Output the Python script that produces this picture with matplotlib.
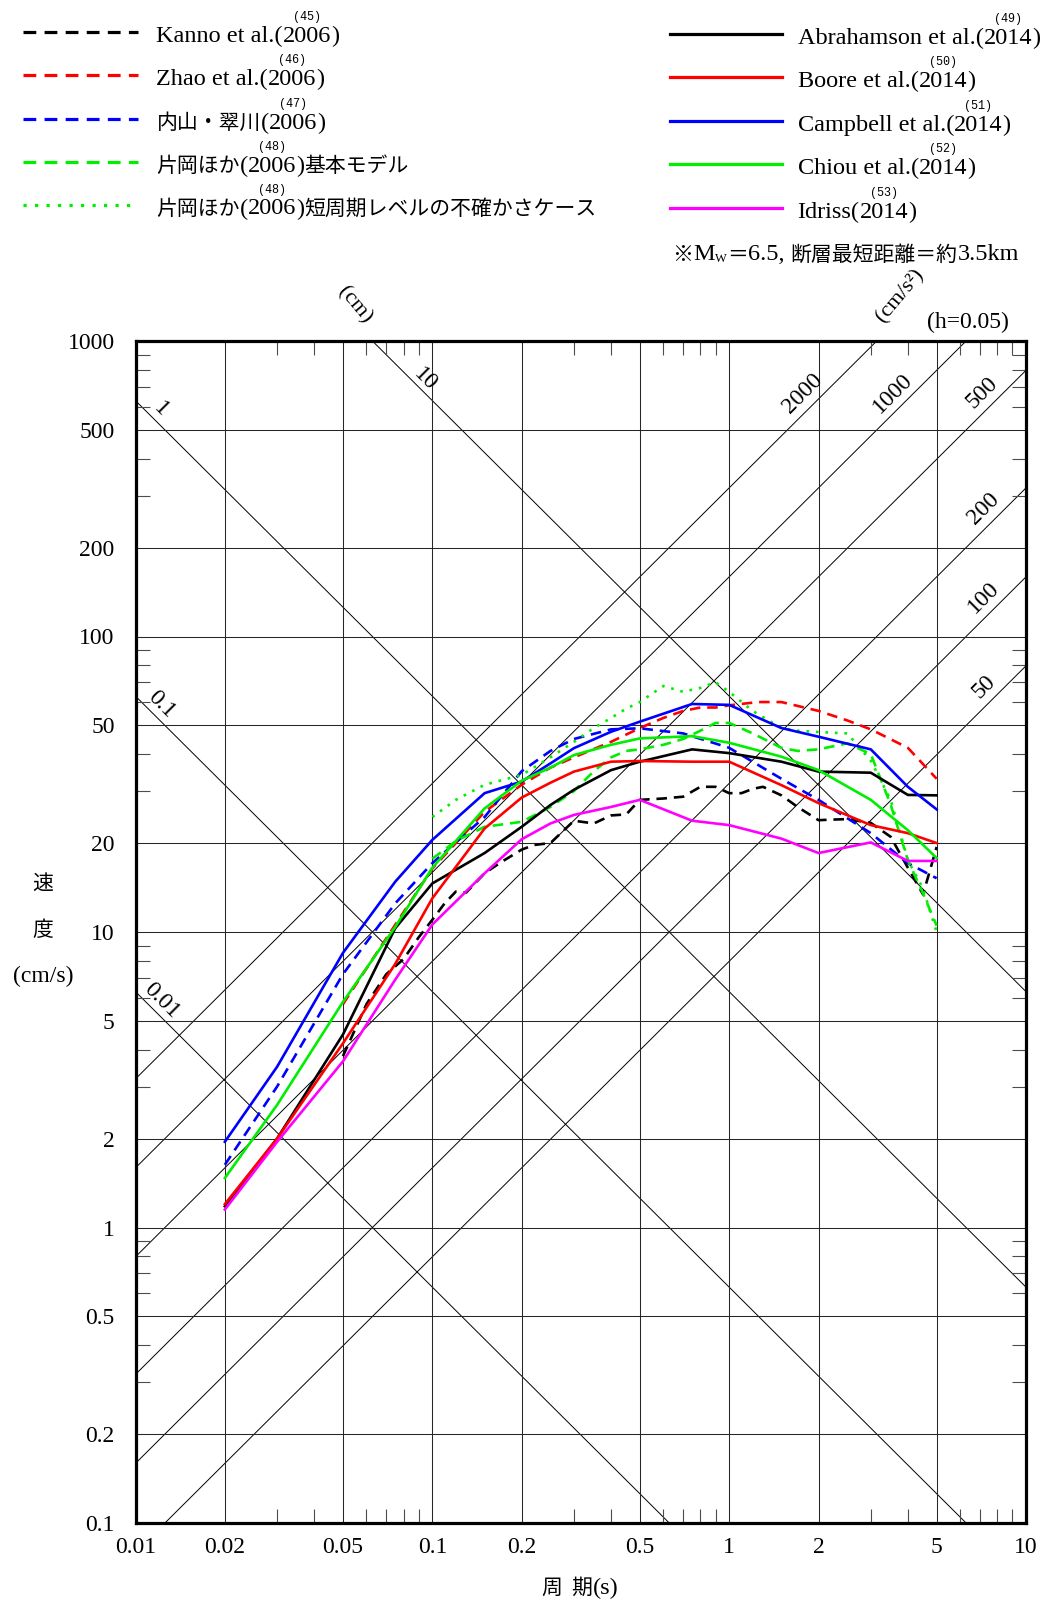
import numpy as np
import matplotlib
matplotlib.use("Agg")
import matplotlib.pyplot as plt
from matplotlib.lines import Line2D
from matplotlib.ticker import FixedLocator, FixedFormatter, NullFormatter

plt.rcParams['font.family'] = ['Liberation Serif', 'Noto Sans CJK JP', 'DejaVu Sans']
LAT = ['Liberation Serif', 'Noto Sans CJK JP']
CJK = ['Noto Sans CJK JP', 'Liberation Serif']

# ---------------- data ----------------
nga_periods = [0.02, 0.03, 0.05, 0.075, 0.1, 0.15, 0.2, 0.25, 0.3, 0.4, 0.5, 0.75, 1.0, 1.5, 2.0, 3.0, 4.0, 5.0]
abrahamson_sv = [1.18, 2.0, 4.5, 10.3, 14.6, 18.5, 22.7, 26.9, 30.3, 35.3, 37.7, 41.5, 40.3, 37.7, 34.9, 34.6, 29.1, 29.0]
boore_sv = [1.2, 2.0, 4.2, 7.8, 13.0, 22.4, 28.5, 32.0, 34.9, 37.7, 37.9, 37.7, 37.7, 31.4, 27.3, 23.0, 21.6, 20.0]
campbell_sv = [1.95, 3.5, 8.5, 14.8, 20.5, 29.5, 32.3, 37.2, 41.9, 47.6, 51.5, 59.1, 58.7, 49.0, 45.8, 41.5, 31.0, 26.0]
chiou_sv = [1.47, 2.6, 5.8, 10.4, 16.5, 26.2, 32.5, 36.0, 39.7, 43.0, 45.2, 46.0, 43.7, 39.2, 35.3, 28.0, 22.1, 17.8]
idriss_sv = [1.15, 1.95, 3.65, 6.9, 10.6, 15.8, 20.6, 23.3, 24.9, 26.5, 28.0, 23.8, 23.0, 20.7, 18.5, 20.1, 17.4, 17.4]

kanno_periods = [0.05, 0.06, 0.07, 0.08, 0.09, 0.1, 0.11, 0.12, 0.13, 0.15, 0.17, 0.2, 0.22, 0.25, 0.3, 0.35,
                 0.4, 0.45, 0.5, 0.6, 0.7, 0.8, 0.9, 1.0, 1.1, 1.2, 1.3, 1.5, 1.7, 2.0, 2.2, 2.5, 3.0, 3.5,
                 4.0, 4.5, 5.0]
kanno_sv = [3.8, 5.7, 7.2, 8.1, 9.6, 11.0, 12.5, 13.7, 13.6, 15.8, 17.2, 19.0, 19.7, 20.0, 23.8, 23.3,
            24.8, 25.0, 28.0, 28.3, 28.7, 31.0, 31.0, 29.5, 29.5, 30.5, 31.0, 29.0, 26.5, 23.9, 24.0, 24.1,
            23.4, 21.0, 16.5, 13.4, 19.4]

zhao_periods = [0.05, 0.1, 0.15, 0.2, 0.25, 0.3, 0.4, 0.5, 0.6, 0.7, 0.8, 0.9, 1.0, 1.25, 1.5, 2.0, 2.5, 3.0, 4.0, 5.0]
zhao_sv = [5.7, 16.4, 25.5, 31.5, 36.0, 39.0, 44.0, 49.0, 53.0, 56.0, 57.5, 57.5, 58.5, 60.0, 60.0, 56.0, 52.0, 48.5, 42.0, 33.0]

uchiyama_periods = [0.02, 0.03, 0.05, 0.075, 0.1, 0.15, 0.2, 0.25, 0.3, 0.4, 0.5, 0.7, 1.0, 1.5, 2.0, 3.0, 4.0, 5.0]
uchiyama_sv = [1.63, 3.0, 7.2, 12.5, 17.1, 24.5, 35.0, 41.0, 45.0, 48.5, 48.9, 47.0, 42.0, 33.0, 28.0, 21.6, 17.1, 15.2]

kataoka_periods = [0.1, 0.12, 0.15, 0.2, 0.25, 0.3, 0.35, 0.4, 0.45, 0.5, 0.6, 0.7, 0.8, 0.9, 1.0, 1.2, 1.5,
                   1.7, 2.0, 2.5, 3.0, 3.5, 4.0, 4.5, 5.0]
kataoka_basic_sv = [17.7, 20.3, 22.7, 23.6, 26.5, 30.0, 35.0, 39.0, 41.0, 41.5, 43.0, 45.0, 48.0, 51.0, 51.0,
                    47.0, 42.0, 41.0, 41.5, 43.5, 40.0, 27.0, 17.5, 13.5, 10.5]
kataoka_short_sv = [24.5, 28.0, 31.5, 34.0, 39.0, 44.0, 49.0, 53.0, 57.0, 60.0, 68.0, 65.0, 67.0, 70.0, 65.0,
                    56.0, 49.0, 48.0, 47.5, 47.0, 38.0, 28.0, 17.5, 14.0, 10.0]

disp_levels_cm = [0.01, 0.1, 1, 10]
disp_labels = ['0.01', '0.1', '1', '10']
acc_levels = [50, 100, 200, 500, 1000, 2000]
acc_labels = ['50', '100', '200', '500', '1000', '2000']

x_ticks = [0.01, 0.02, 0.05, 0.1, 0.2, 0.5, 1, 2, 5, 10]
x_ticklabels = ['0.01', '0.02', '0.05', '0.1', '0.2', '0.5', '1', '2', '5', '10']
y_ticks = [0.1, 0.2, 0.5, 1, 2, 5, 10, 20, 50, 100, 200, 500, 1000]
y_ticklabels = ['0.1', '0.2', '0.5', '1', '2', '5', '10', '20', '50', '100', '200', '500', '1000']

# ---------------- figure ----------------
W, H = 1043, 1604
fig = plt.figure(figsize=(W / 100, H / 100), dpi=100)
ax = fig.add_axes([135.5 / W, 1 - 1523 / H, 890.5 / W, 1182 / H])
ax.set_xscale('log')
ax.set_yscale('log')
ax.set_autoscale_on(False)
ax.set_xlim(0.01, 10)
ax.set_ylim(0.1, 1000)

ax.xaxis.set_major_locator(FixedLocator(x_ticks))
ax.xaxis.set_major_formatter(FixedFormatter(x_ticklabels))
ax.yaxis.set_major_locator(FixedLocator(y_ticks))
ax.yaxis.set_major_formatter(FixedFormatter(y_ticklabels))
minor_x = [m * 10.0 ** e for e in (-2, -1, 0) for m in (3, 4, 6, 7, 8, 9)]
minor_y = [m * 10.0 ** e for e in (-1, 0, 1, 2) for m in (3, 4, 6, 7, 8, 9)]
ax.xaxis.set_minor_locator(FixedLocator(minor_x))
ax.yaxis.set_minor_locator(FixedLocator(minor_y))
ax.xaxis.set_minor_formatter(NullFormatter())
ax.yaxis.set_minor_formatter(NullFormatter())
ax.tick_params(which='major', length=0, labelsize=17)
ax.tick_params(axis='x', which='major', pad=10)
ax.tick_params(axis='y', which='major', pad=15)
ax.tick_params(which='minor', direction='in', length=10, width=0.8, color='0.3',
               top=True, right=True, bottom=True, left=True)
ax.grid(True, which='major', color='0.15', lw=0.75)
for s in ax.spines.values():
    s.set_linewidth(2.3)
    s.set_zorder(10)

# tripartite diagonals
Tg = np.logspace(-2, 1, 300)
for sd in disp_levels_cm:
    ax.plot(Tg, 2 * np.pi * sd / Tg, color='k', lw=0.7, zorder=1)
for sa in acc_levels:
    ax.plot(Tg, sa * Tg / (2 * np.pi), color='k', lw=0.7, zorder=1)

# diagonal labels
for sd, lab in zip(disp_levels_cm, disp_labels):
    if sd < 5:
        t = 0.0122
        f = 1.14
    else:
        t = 0.0946
        f = 1.12
    ax.text(t, 2 * np.pi * sd / t * f, lab, rotation=-45, rotation_mode='anchor',
            ha='center', va='center', fontsize=17, family=LAT, zorder=3)
for sa, lab in zip(acc_levels, acc_labels):
    t = min(2 * np.pi * 565 / sa, 7.2)
    ax.text(t, sa * t / (2 * np.pi) * 1.18, lab, rotation=45, rotation_mode='anchor',
            ha='center', va='center', fontsize=17, family=LAT, zorder=3)

LW = 1.9
dash = (0, (4, 2.6))
dot = (0, (1.0, 2.6))
series = [
    (kanno_periods, kanno_sv, 'black', dash),
    (zhao_periods, zhao_sv, '#ff0000', dash),
    (uchiyama_periods, uchiyama_sv, '#0000ff', dash),
    (kataoka_periods, kataoka_basic_sv, '#00ee00', dash),
    (kataoka_periods, kataoka_short_sv, '#00ee00', dot),
    (nga_periods, abrahamson_sv, 'black', '-'),
    (nga_periods, boore_sv, '#ff0000', '-'),
    (nga_periods, campbell_sv, '#0000ff', '-'),
    (nga_periods, chiou_sv, '#00ee00', '-'),
    (nga_periods, idriss_sv, '#ff00ff', '-'),
]
for per, sv, col, ls in series:
    ax.plot(per, sv, color=col, ls=ls, lw=LW, zorder=5, dash_capstyle='butt')

# ---------------- texts ----------------
renderer = fig.canvas.get_renderer()


def ftext(x, y, s, **kw):
    return fig.text(x / W, 1 - y / H, s, **kw)


def seg_line(x, y, segs):
    """segs: list of (text, family, size); returns list of bboxes"""
    cur = x
    boxes = []
    for s, fam, size in segs:
        t = ftext(cur, y, s, family=fam, fontsize=size, ha='left', va='center_baseline')
        bb = t.get_window_extent(renderer)
        boxes.append(bb)
        cur += bb.width
    return boxes


LS = 17.5   # latin size
CS = 15     # CJK size
legend_left = [
    ([("Kanno et al.(", LAT, LS), ("2006", LAT, LS), (")", LAT, LS)], "(45)", 'black', dash),
    ([("Zhao et al.(", LAT, LS), ("2006", LAT, LS), (")", LAT, LS)], "(46)", '#ff0000', dash),
    ([("内山・翠川", CJK, CS), ("(", LAT, LS), ("2006", LAT, LS), (")", LAT, LS)], "(47)", '#0000ff', dash),
    ([("片岡ほか", CJK, CS), ("(", LAT, LS), ("2006", LAT, LS), (")", LAT, LS), ("基本モデル", CJK, CS)],
     "(48)", '#00ee00', dash),
    ([("片岡ほか", CJK, CS), ("(", LAT, LS), ("2006", LAT, LS), (")", LAT, LS),
      ("短周期レベルの不確かさケース", CJK, CS)], "(48)", '#00ee00', dot),
]
legend_right = [
    ([("Abrahamson et al.(", LAT, LS), ("2014", LAT, LS), (")", LAT, LS)], "(49)", 'black', '-'),
    ([("Boore et al.(", LAT, LS), ("2014", LAT, LS), (")", LAT, LS)], "(50)", '#ff0000', '-'),
    ([("Campbell et al.(", LAT, LS), ("2014", LAT, LS), (")", LAT, LS)], "(51)", '#0000ff', '-'),
    ([("Chiou et al.(", LAT, LS), ("2014", LAT, LS), (")", LAT, LS)], "(52)", '#00ee00', '-'),
    ([("Idriss(", LAT, LS), ("2014", LAT, LS), (")", LAT, LS)], "(53)", '#ff00ff', '-'),
]


def draw_legend(entries, x0, x1, tx, ys):
    for (segs, sup, col, ls), y in zip(entries, ys):
        fig.add_artist(Line2D([x0 / W, x1 / W], [1 - y / H, 1 - y / H], transform=fig.transFigure,
                              color=col, ls=ls, lw=2.3, dash_capstyle='butt'))
        boxes = seg_line(tx, y + 2, segs)
        idx = [i for i, s in enumerate(segs) if s[0] in ("2006", "2014")][0]
        bb = boxes[idx]
        cx = (bb.x0 + bb.x1) / 2
        ftext(cx, y - 15, sup, family=['Liberation Mono'], fontsize=8.5, ha='center', va='center')


draw_legend(legend_left, 22.5, 138, 156.5, [31.7, 74.6, 118.6, 161.6, 204.5])
draw_legend(legend_right, 670, 782, 797.6, [33.7, 76.7, 120.7, 163.6, 207.6])

# condition note
boxes = seg_line(672, 252, [("※", CJK, CS), ("M", LAT, LS)])
xw = boxes[-1].x1
ftext(xw, 257, "W", family=LAT, fontsize=9, ha='left', va='center_baseline')
wbox = fig.texts[-1].get_window_extent(renderer)
seg_line(wbox.x1 + 1, 252, [("＝", CJK, CS), ("6.5, ", LAT, LS), ("断層最短距離＝約", CJK, CS), ("3.5km", LAT, LS)])

# unit labels
ftext(355, 305, "(cm)", family=LAT, fontsize=16, rotation=-50, ha='center', va='center')
ftext(900, 296, "(cm/s²)", family=LAT, fontsize=16, rotation=50, ha='center', va='center')
ftext(968, 322, "(h=0.05)", family=LAT, fontsize=17, ha='center', va='center')

# axis labels
ftext(593, 1588, "周  期", family=CJK, fontsize=CS, ha='right', va='center')
ftext(593, 1588, "(s)", family=LAT, fontsize=LS, ha='left', va='center')
ftext(43, 884, "速", family=CJK, fontsize=CS, ha='center', va='center')
ftext(43, 930, "度", family=CJK, fontsize=CS, ha='center', va='center')
ftext(43, 976, "(cm/s)", family=LAT, fontsize=17, ha='center', va='center')

fig.savefig("out.png", dpi=100)
